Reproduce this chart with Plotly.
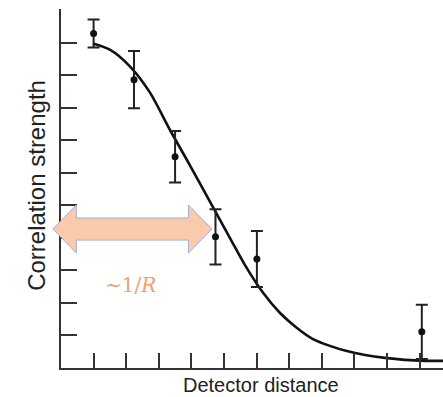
import plotly.graph_objects as go

# ---- data (axis units) ----
point_x = [1.0, 2.24, 3.5, 4.74, 6.01, 11.07]
point_y = [10.28, 8.86, 6.49, 4.03, 3.35, 1.11]
point_err = [0.43, 0.88, 0.79, 0.85, 0.86, 0.83]

curve_x = [0.98, 1.5, 2.12, 2.73, 3.34, 3.96, 4.57, 5.18, 5.64, 6.2, 6.72, 7.24,
           7.73, 8.25, 8.77, 9.33, 9.94, 10.55, 11.17, 11.72]
curve_y = [9.97, 9.78, 9.26, 8.46, 7.32, 6.22, 5.11, 4.0, 3.17, 2.31, 1.69, 1.23,
           0.89, 0.68, 0.52, 0.4, 0.31, 0.25, 0.22, 0.22]

x_ticks = list(range(1, 12))
y_ticks = list(range(1, 12))

x_range = [0, 11.72]
y_range = [0, 11.03]

x_title = "Detector distance"
y_title = "Correlation strength"
arrow_label = "∼1/<i>R</i>"

# arrow extent in axis units
arrow_x0, arrow_x1 = -0.25, 4.63
arrow_y = 4.27
arrow_head_len = 0.72
arrow_head_half = 0.74
arrow_shaft_half = 0.34


def px(v):
    return (v - x_range[0]) / (x_range[1] - x_range[0])


def py(v):
    return (v - y_range[0]) / (y_range[1] - y_range[0])


fig = go.Figure()

fig.add_trace(go.Scatter(
    x=curve_x, y=curve_y, mode="lines",
    line=dict(color="#111111", width=2.6, shape="spline", smoothing=0.8),
    hoverinfo="skip", showlegend=False,
))

fig.add_trace(go.Scatter(
    x=point_x, y=point_y, mode="markers",
    marker=dict(color="#111111", size=7),
    error_y=dict(type="data", array=point_err, visible=True,
                 color="#222222", thickness=2, width=6),
    showlegend=False,
))

# double-headed arrow as a path (paper coords)
xa, xb = px(arrow_x0), px(arrow_x1)
hx = px(arrow_x0 + arrow_head_len) - px(arrow_x0)
yc = py(arrow_y)
hh = py(arrow_head_half) - py(0)
sh = py(arrow_shaft_half) - py(0)
path = (f"M {xa} {yc} L {xa+hx} {yc+hh} L {xa+hx} {yc+sh} L {xb-hx} {yc+sh} "
        f"L {xb-hx} {yc+hh} L {xb} {yc} L {xb-hx} {yc-hh} L {xb-hx} {yc-sh} "
        f"L {xa+hx} {yc-sh} L {xa+hx} {yc-hh} Z")
fig.add_shape(type="path", path=path, xref="paper", yref="paper",
              fillcolor="#F8CBAD", line=dict(color="#9DB0D6", width=1), layer="above")

fig.add_annotation(x=px(2.12), y=py(2.55), xref="paper", yref="paper",
                   xanchor="center", yanchor="middle",
                   text=arrow_label, showarrow=False,
                   font=dict(family="DejaVu Serif", size=20, color="#F2A06A"))

fig.add_annotation(x=px(6.15), y=-0.048, xref="paper", yref="paper",
                   text=x_title, showarrow=False, xanchor="center", yanchor="middle",
                   font=dict(family="Liberation Sans, Arial", size=20, color="#222222"))
fig.add_annotation(x=-0.063, y=0.51, xref="paper", yref="paper",
                   text=y_title, showarrow=False, textangle=-90,
                   xanchor="center", yanchor="middle",
                   font=dict(family="Liberation Sans, Arial", size=24, color="#222222"))

axis_common = dict(showgrid=False, zeroline=False, showline=True,
                   linecolor="#333333", linewidth=2, ticks="inside",
                   tickcolor="#333333", tickwidth=1.6, showticklabels=False)

fig.update_xaxes(range=x_range, tickvals=x_ticks, ticklen=15, **axis_common)
fig.update_yaxes(range=y_range, tickvals=y_ticks, ticklen=16, **axis_common)

fig.update_layout(
    width=443, height=397,
    margin=dict(l=61, r=0, t=9, b=29),
    plot_bgcolor="white", paper_bgcolor="white",
)

fig.write_html("out.html")
